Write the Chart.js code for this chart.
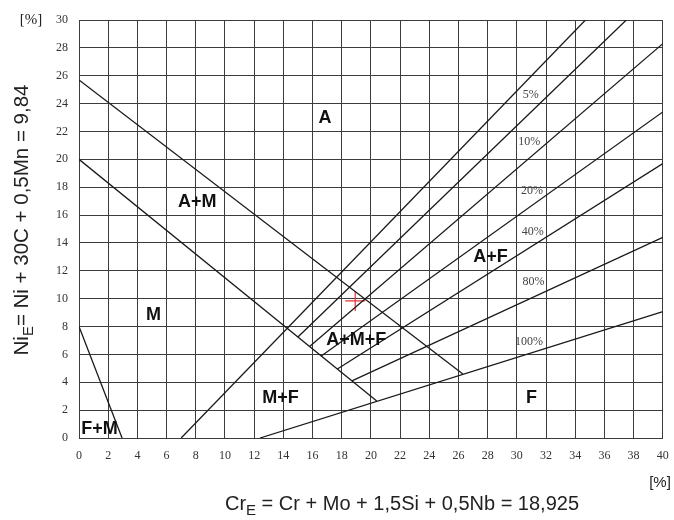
<!DOCTYPE html>
<html><head><meta charset="utf-8">
<script src="https://cdn.jsdelivr.net/npm/chart.js@4.4.0/dist/chart.umd.min.js"></script>
<style>html,body{margin:0;padding:0;background:#fff;overflow:hidden}</style>
</head><body>
<canvas id="c" width="674" height="520"></canvas>
<script>
// ---- data ----
const xTickValues = [0,2,4,6,8,10,12,14,16,18,20,22,24,26,28,30,32,34,36,38,40];
const yTickValues = [0,2,4,6,8,10,12,14,16,18,20,22,24,26,28,30];

// boundary lines (x / y pairs)
const upperDiagX = [0, 26.3];   const upperDiagY = [25.7, 4.6];
const lowerDiagX = [0, 20.4];   const lowerDiagY = [20.0, 2.65];
const fmLineX    = [0, 2.95];   const fmLineY    = [8.0, 0];

// ferrite-content lines
const ferriteNames  = ['0%', '5%', '10%', '20%', '40%', '80%', '100%'];
const ferriteStartX = [7.0, 15.0, 15.8, 16.6, 17.7, 18.7, 12.4];
const ferriteStartY = [0,   7.25, 6.57, 5.89, 4.95, 4.1,  0];
const ferriteEndX   = [34.7, 37.5, 40, 40, 40, 40, 40];
const ferriteEndY   = [30,   30, 28.3, 23.4, 19.7, 14.4, 9.07];

// percent label positions (right edge of text)
const pctLabels = ['5%', '10%', '20%', '40%', '80%', '100%'];
const pctLabelX = [31.5, 31.6, 31.8, 31.85, 31.9, 31.8];
const pctLabelY = [24.6, 21.27, 17.73, 14.8, 11.22, 6.91];

// phase region labels
const regionNames = ['A', 'A+M', 'M', 'F+M', 'M+F', 'A+M+F', 'A+F', 'F'];
const regionX     = [16.85, 8.1, 5.1, 1.4, 13.8, 19.0, 28.2, 31.0];
const regionY     = [23.0, 16.9, 8.8, 0.65, 2.9, 7.0, 13.0, 2.9];

// measured composition point
const pointCrE = [18.925];
const pointNiE = [9.84];

// ---- datasets ----
function seg(xs, ys){ return xs.map((x,i)=>({x:x, y:ys[i]})); }
const lineStyle = {showLine:true, borderColor:'#1a1a1a', borderWidth:1.3, pointRadius:0, fill:false, tension:0};
const datasets = [
  Object.assign({label:'A / A+M', data: seg(upperDiagX, upperDiagY)}, lineStyle),
  Object.assign({label:'A+M / M', data: seg(lowerDiagX, lowerDiagY)}, lineStyle),
  Object.assign({label:'M / F+M', data: seg(fmLineX, fmLineY)}, lineStyle),
];
ferriteNames.forEach((n,i)=>{
  datasets.push(Object.assign({label:n, data: seg([ferriteStartX[i], ferriteEndX[i]], [ferriteStartY[i], ferriteEndY[i]])}, lineStyle));
});
datasets.push({label:'point', data: seg(pointCrE, pointNiE), showLine:false, pointStyle:'cross',
  pointRadius:10, pointBorderColor:'#e53030', pointBorderWidth:1.2, pointBackgroundColor:'#e53030'});

// ---- text plugin ----
function drawRich(ctx, parts, x, y, font, subFont){
  let cx = x;
  parts.forEach(p=>{
    ctx.font = p.sub ? subFont : font;
    ctx.fillText(p.t, cx, y + (p.sub ? 5 : 0));
    cx += ctx.measureText(p.t).width;
  });
}
function richWidth(ctx, parts, font, subFont){
  let w = 0;
  parts.forEach(p=>{ ctx.font = p.sub ? subFont : font; w += ctx.measureText(p.t).width; });
  return w;
}
const textPlugin = {
  id:'textPlugin',
  afterDatasetsDraw(chart){
    const ctx = chart.ctx, xs = chart.scales.x, ys = chart.scales.y;
    ctx.save();
    ctx.fillStyle = '#111';
    ctx.font = 'bold 18px "Liberation Sans", Arial, sans-serif';
    ctx.textAlign = 'center'; ctx.textBaseline = 'middle';
    regionNames.forEach((n,i)=> ctx.fillText(n, xs.getPixelForValue(regionX[i]), ys.getPixelForValue(regionY[i])));
    ctx.fillStyle = '#444';
    ctx.font = '12px "Liberation Serif", "Times New Roman", serif';
    ctx.textAlign = 'right';
    pctLabels.forEach((n,i)=> ctx.fillText(n, xs.getPixelForValue(pctLabelX[i]), ys.getPixelForValue(pctLabelY[i])));
    ctx.restore();
  },
  afterDraw(chart){
    const ctx = chart.ctx;
    ctx.save();
    ctx.fillStyle = '#222';
    ctx.textBaseline = 'alphabetic'; ctx.textAlign = 'left';
    const fx = '20px "Liberation Sans", Arial, sans-serif', sfx = '15px "Liberation Sans", Arial, sans-serif';
    const xt = [{t:'Cr'},{t:'E',sub:true},{t:' = Cr + Mo + 1,5Si + 0,5Nb = 18,925'}];
    const wx = richWidth(ctx, xt, fx, sfx);
    drawRich(ctx, xt, 402 - wx/2, 510, fx, sfx);
    const fy = '20.5px "Liberation Sans", Arial, sans-serif', sfy = '15px "Liberation Sans", Arial, sans-serif';
    const yt = [{t:'Ni'},{t:'E',sub:true},{t:'= Ni + 30C + 0,5Mn = 9,84'}];
    const wy = richWidth(ctx, yt, fy, sfy);
    ctx.save();
    ctx.translate(28, 220);
    ctx.rotate(-Math.PI/2);
    drawRich(ctx, yt, -wy/2, 0, fy, sfy);
    ctx.restore();
    ctx.font = '15px "Liberation Sans", Arial, sans-serif';
    ctx.textAlign = 'center'; ctx.textBaseline = 'middle';
    ctx.fillText('[%]', 660, 483);
    ctx.font = '15px "Liberation Serif", "Times New Roman", serif';
    ctx.fillText('[%]', 31, 20);
    ctx.restore();
  }
};

new Chart(document.getElementById('c'), {
  type:'scatter',
  data:{datasets},
  plugins:[textPlugin],
  options:{
    responsive:false, animation:false, devicePixelRatio:1,
    layout:{padding:{left:0, top:20, right:11, bottom:0}},
    plugins:{legend:{display:false}, tooltip:{enabled:false}},
    scales:{
      x:{type:'linear', min:0, max:40,
        afterBuildTicks(s){ s.ticks = xTickValues.map(v=>({value:v})); },
        afterFit(s){ s.height = 82; s.paddingLeft = 0; s.paddingRight = 0; },
        grid:{color:'#3c3c3c', lineWidth:1, drawTicks:false},
        border:{color:'#3c3c3c', width:1},
        ticks:{padding:11, color:'#333', font:{family:'"Liberation Serif", "Times New Roman", serif', size:12}, maxRotation:0, autoSkip:false}
      },
      y:{type:'linear', min:0, max:30,
        afterBuildTicks(s){ s.ticks = yTickValues.map(v=>({value:v})); },
        afterFit(s){ s.width = 79; s.paddingTop = 0; s.paddingBottom = 0; },
        grid:{color:'#3c3c3c', lineWidth:1, drawTicks:false},
        border:{color:'#3c3c3c', width:1},
        ticks:{padding:11, color:'#333', font:{family:'"Liberation Serif", "Times New Roman", serif', size:12}, autoSkip:false}
      }
    }
  }
});
</script>
</body></html>
